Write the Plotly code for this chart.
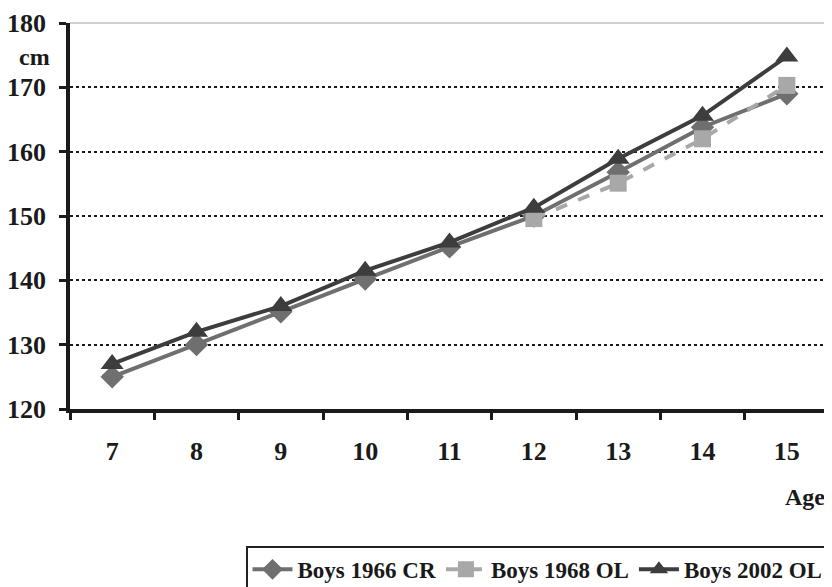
import plotly.graph_objects as go

ages = [7, 8, 9, 10, 11, 12, 13, 14, 15]
boys_1966_cr = [125.0, 130.0, 135.1, 140.2, 145.2, 150.0, 156.8, 163.8, 169.0]
boys_1968_ol = [None, None, None, None, None, 149.6, 155.1, 162.0, 170.3]
boys_2002_ol = [127.0, 132.0, 136.0, 141.5, 145.9, 151.3, 158.9, 165.6, 174.8]
y_ticks = [120, 130, 140, 150, 160, 170, 180]

FONT = "Liberation Serif, Times New Roman, serif"

fig = go.Figure()
fig.add_trace(go.Scatter(
    x=ages, y=boys_1966_cr, name="Boys 1966 CR", mode="lines+markers",
    line=dict(color="#6f6f6f", width=4),
    marker=dict(symbol="diamond", size=18, color="#6f6f6f")))
fig.add_trace(go.Scatter(
    x=ages, y=boys_1968_ol, name="Boys 1968 OL", mode="lines+markers",
    line=dict(color="#a8a8a8", width=4, dash="dash"),
    marker=dict(symbol="square", size=17, color="#a8a8a8")))
fig.add_trace(go.Scatter(
    x=ages, y=boys_2002_ol, name="Boys 2002 OL", mode="lines+markers",
    line=dict(color="#3d3d3d", width=4),
    marker=dict(symbol="triangle-up", size=20, color="#3d3d3d")))

fig.update_layout(
    width=832, height=587,
    margin=dict(l=62, r=11, t=15, b=186, autoexpand=False),
    paper_bgcolor="white", plot_bgcolor="white",
    font=dict(family=FONT, size=26, color="#1a1a1a", weight="bold"),
    showlegend=True,
    legend=dict(orientation="h", x=1, xanchor="right", y=-0.356, yanchor="top",
                bordercolor="#222222", borderwidth=1.5,
                font=dict(family=FONT, size=23, color="#1a1a1a", weight="bold"),
                itemwidth=40, tracegroupgap=0),
    xaxis=dict(range=[6.5, 15.5], tickmode="array", tickvals=ages,
               ticktext=[str(a) for a in ages], ticks="", showgrid=False,
               showline=True, linecolor="#1a1a1a", linewidth=3.5,
               ticklabelstandoff=16, zeroline=False, automargin=False,
               minor=dict(tickmode="array",
                          tickvals=[6.5, 7.5, 8.5, 9.5, 10.5, 11.5, 12.5, 13.5, 14.5, 15.5],
                          ticks="outside", ticklen=7, tickwidth=3, tickcolor="#1a1a1a",
                          showgrid=False)),
    yaxis=dict(range=[120, 180], tickmode="array", tickvals=y_ticks,
               ticks="outside", ticklen=7, tickwidth=3, tickcolor="#1a1a1a",
               showline=True, linecolor="#1a1a1a", linewidth=3.5,
               showgrid=True, gridcolor="#1a1a1a", gridwidth=1.5, griddash="dot",
               ticklabelstandoff=8, zeroline=False, automargin=False),
    shapes=[
        dict(type="line", xref="paper", yref="paper", x0=0, x1=1, y0=1, y1=1,
             line=dict(color="#a0a0a0", width=1), layer="below"),
        dict(type="line", xref="paper", yref="paper", x0=1, x1=1, y0=0, y1=1,
             line=dict(color="#a0a0a0", width=1), layer="below"),
    ],
    annotations=[
        dict(text="cm", xref="paper", yref="paper", x=-0.047, y=0.912,
             xanchor="center", yanchor="middle", showarrow=False,
             font=dict(family=FONT, size=24, color="#1a1a1a", weight="bold")),
        dict(text="Age", xref="paper", yref="paper", x=0.968, y=-0.228,
             xanchor="center", yanchor="middle", showarrow=False,
             font=dict(family=FONT, size=24, color="#1a1a1a", weight="bold")),
    ],
)

fig.write_html("out.html")
